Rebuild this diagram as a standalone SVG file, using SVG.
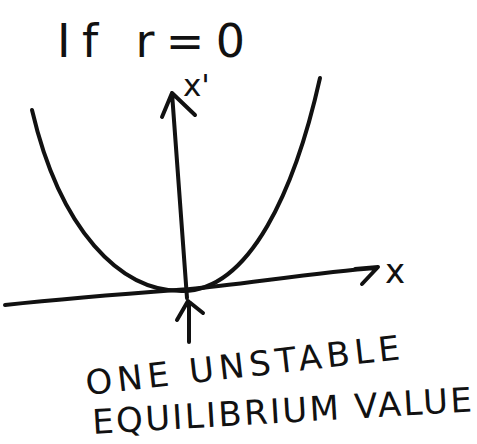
<svg xmlns="http://www.w3.org/2000/svg" width="477" height="444" viewBox="0 0 477 444">
  <style>
    .ink { fill: none; stroke: #111; stroke-width: 4; stroke-linecap: round; stroke-linejoin: round; }
    .hand { font-family: "DejaVu Sans", "Liberation Sans", sans-serif; fill: #111; }
  </style>
  <rect width="477" height="444" fill="#fff"/>
  <g id="title">
    <text class="hand" x="57" y="57" font-size="46" textLength="188" lengthAdjust="spacing">If r=0</text>
  </g>
  <g id="curve">
    <path class="ink" d="M32,110 C60,230 120,292 183,291 C250,290 295,190 320,78"/>
  </g>
  <g id="connectors">
    <path id="y-axis" class="ink" d="M187,298 L172,93 M162,117 L172,93 L195,115"/>
    <path id="x-axis" class="ink" d="M5,305 C80,297 150,292 190,289 S320,272 375,268 M355,269 L378,267 L362,284"/>
    <path id="pointer" class="ink" d="M189,342 L189,302 M177,320 L188,301 L203,313"/>
  </g>
  <g id="axis-labels">
    <text class="hand" x="183" y="96" font-size="31">x'</text>
    <text class="hand" x="385" y="283" font-size="34">x</text>
  </g>
  <g id="caption">
    <text class="hand" font-size="34" transform="translate(87,395) rotate(-6.5)" textLength="316" lengthAdjust="spacing">ONE UNSTABLE</text>
    <text class="hand" font-size="34" transform="translate(93,434) rotate(-3.4)" textLength="380" lengthAdjust="spacing">EQUILIBRIUM VALUE</text>
  </g>
</svg>
